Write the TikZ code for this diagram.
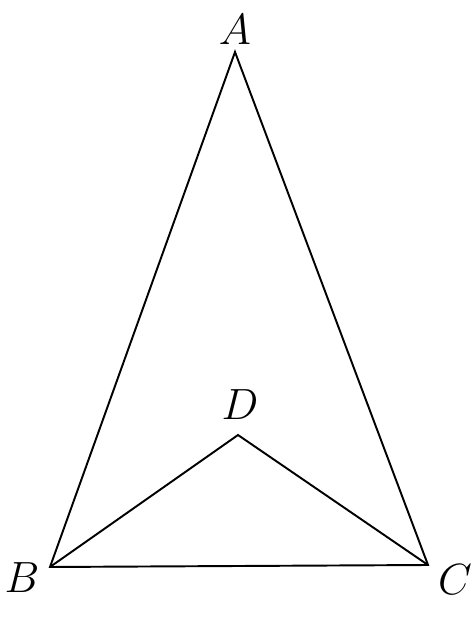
\documentclass[tikz,border=0pt]{standalone}
\usepackage{tikz}
\usetikzlibrary{calc,positioning}
\tikzset{
  edge/.style={draw=black, line width=1.1pt, line join=miter},
  vlabel/.style={font=\fontsize{25}{30}\selectfont\itshape, inner sep=0pt}
}

\begin{document}
\begin{tikzpicture}
  \useasboundingbox (0,0) rectangle (9.48,12.36);
  \coordinate (A) at (4.70,11.32);
  \coordinate (B) at (1.00,1.02);
  \coordinate (C) at (8.56,1.06);
  \coordinate (D) at (4.76,3.66);
  \draw[edge] (A)--(B)--(C)--cycle;
  \draw[edge] (B)--(D)--(C);
  \node[vlabel] (lA) at (4.70,11.76) {$A$};
  \node[vlabel] (lB) at (0.44,0.80) {$B$};
  \node[vlabel] (lC) at (9.10,0.76) {$C$};
  \node[vlabel] (lD) at (4.80,4.26) {$D$};
\end{tikzpicture}
\end{document}
